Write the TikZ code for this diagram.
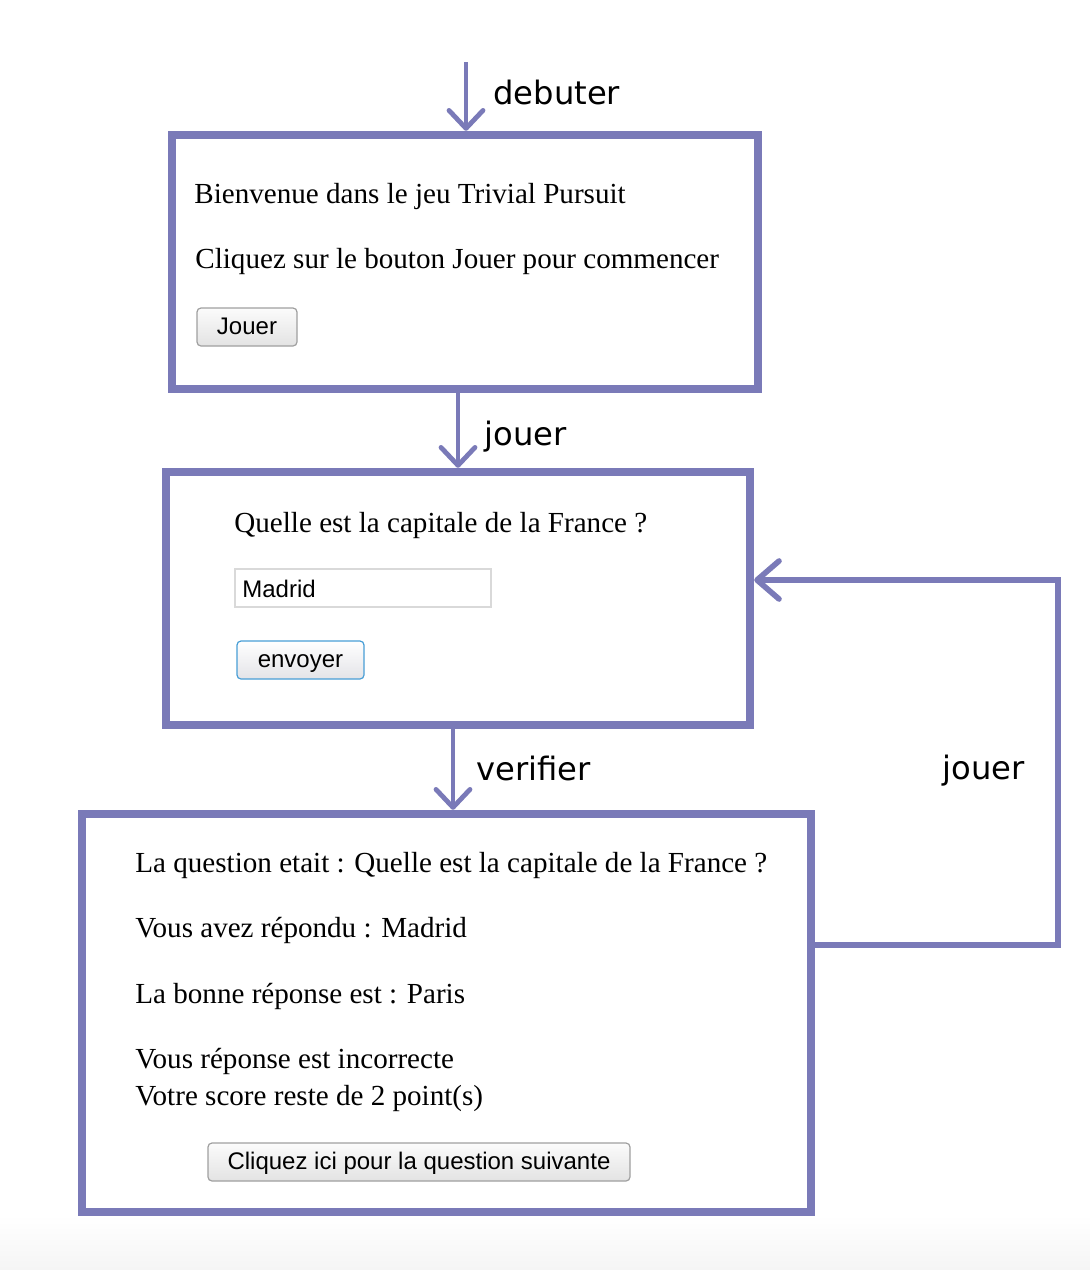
\documentclass[tikz,border=0pt]{standalone}
\usepackage{fontspec}
\setmainfont{Liberation Serif}
\newfontfamily\etiqfont{DejaVu Sans}
\newfontfamily\boutonfont{Liberation Sans}
\usetikzlibrary{arrows.meta,positioning}
\definecolor{cadre}{RGB}{122,122,184}
\definecolor{bleubouton}{RGB}{72,158,214}

\tikzset{
	ecran/.style={draw=cadre,line width=4.2pt,inner sep=0pt},
	fleche/.style={draw=cadre,line width=2.4pt,-{Straight Barb[length=9pt,width=17pt,round]}},
	boucle/.style={draw=cadre,line width=2.8pt,-{Straight Barb[length=11pt,width=19pt,round]}},
	etiquette/.style={font=\etiqfont\fontsize{16.1pt}{19pt}\selectfont,anchor=base west,inner sep=0pt},
	texte/.style={font=\fontsize{14.55pt}{17pt}\selectfont,anchor=base west,inner sep=0pt},
	bouton/.style={draw=gray!75,line width=0.6pt,rounded corners=2pt,top color=gray!3,bottom color=gray!22,
		font=\boutonfont\fontsize{12pt}{14pt}\selectfont,text height=2.05ex,text depth=0.35ex,
		minimum height=19pt,inner sep=0pt},
	champ/.style={draw=gray!30,line width=0.6pt,fill=white,minimum height=19pt,minimum width=128pt,inner sep=0pt}
}

\begin{document}
\begin{tikzpicture}[x=0.5pt,y=-0.5pt]
		\useasboundingbox (0,0) rectangle (1090,1270);
		\shade[top color=white,bottom color=gray!8] (0,1215) rectangle (1090,1270);
		
		% les trois ecrans
		\node[ecran,minimum width=293pt,minimum height=127pt] (accueil) at (465,262) {};
		\node[ecran,minimum width=292pt,minimum height=126.5pt] (question) at (458,598.5) {};
		\node[ecran,minimum width=364.5pt,minimum height=199pt] (resultat) at (446.5,1013) {};
		
		% ecran d'accueil
		\node[texte] (bienvenue) at (194,203) {Bienvenue dans le jeu Trivial Pursuit};
		\node[texte] (consigne) at (195,268) {Cliquez sur le bouton Jouer pour commencer};
		\node[bouton,minimum width=50pt] (jouerbtn) at (247,327) {Jouer};
		
		% ecran de question
		\node[texte] (intitule) at (234,532) {Quelle est la capitale de la France ?};
		\node[champ] (saisie) at (363,588) {};
		\node[anchor=west,inner sep=0pt,font=\boutonfont\fontsize{12pt}{14pt}\selectfont] (madrid) at (242,589) {Madrid};
		\node[bouton,draw=bleubouton,top color=white,bottom color=blue!8!gray!20,minimum width=63.5pt] (envoyerbtn) at (300.5,660) {envoyer};
		
		% ecran de resultat
		\node[texte] (rappel) at (135,872) {La question etait : Quelle est la capitale de la France ?};
		\node[texte] (reponse) at (135,937) {Vous avez répondu : Madrid};
		\node[texte] (correction) at (135,1003) {La bonne réponse est : Paris};
		\node[texte] (verdict) at (135,1068) {Vous réponse est incorrecte};
		\node[texte] (score) at (135,1105) {Votre score reste de 2 point(s)};
		\node[bouton,minimum width=211pt] (suivantebtn) at (419,1162) {Cliquez ici pour la question suivante};
		
		% transitions
		\coordinate (entree) at (466,62);
		\draw[fleche] (entree) -- (entree |- accueil.north);
		\node[etiquette] (lbdebuter) at (493,104) {debuter};
		
		\draw[fleche] (question.north |- accueil.south) -- (question.north);
		\node[etiquette] (lbjouer) at (484,445) {jouer};
		
		\coordinate (verif) at (453,0);
		\draw[fleche] (verif |- question.south) -- (verif |- resultat.north);
		\node[etiquette] (lbverifier) at (476,780) {verifier};
		
		\coordinate (depart) at (815,945);
		\coordinate (coin) at (1058,580);
		\draw[boucle] (resultat.east |- depart) -| (coin) -- (coin -| question.east);
		\node[etiquette] (lbrejouer) at (942,779) {jouer};
	\end{tikzpicture}
\end{document}
